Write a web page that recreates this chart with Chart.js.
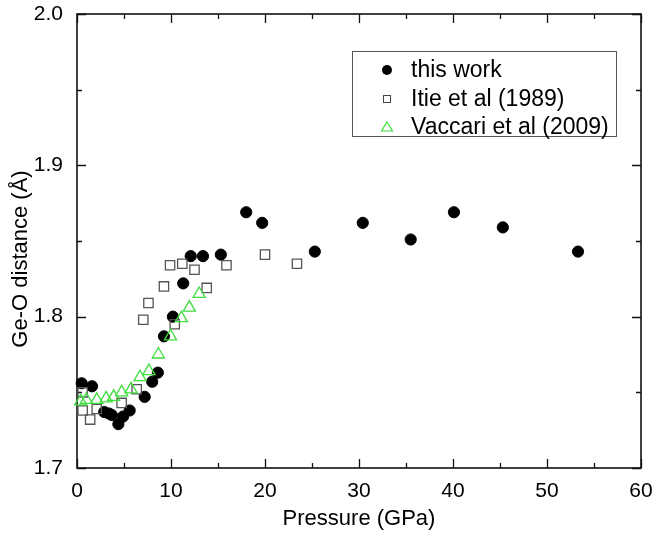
<!DOCTYPE html>
<html><head><meta charset="utf-8">
<script src="https://cdn.jsdelivr.net/npm/chart.js@4/dist/chart.umd.min.js"></script>
<style>html,body{margin:0;padding:0;background:#fff}#wrap{width:654px;height:533px;position:relative}</style>
</head><body><div id="wrap"><canvas id="c" width="654" height="533"></canvas></div>
<script>
// ---- data ----
const thisWorkP = [0.5, 1.6, 2.9, 3.4, 3.7, 4.4, 4.9, 5.6, 7.2, 8.0, 8.6, 9.25, 10.2, 11.3, 12.1, 13.4, 15.3, 18.0, 19.7, 25.3, 30.4, 35.5, 40.1, 45.3, 53.3];
const thisWorkD = [1.756, 1.754, 1.737, 1.736, 1.735, 1.729, 1.734, 1.738, 1.747, 1.757, 1.763, 1.787, 1.800, 1.822, 1.840, 1.840, 1.841, 1.869, 1.862, 1.843, 1.862, 1.851, 1.869, 1.859, 1.843];
const itieP = [0.6, 0.6, 1.4, 2.1, 4.75, 6.35, 7.05, 7.6, 9.25, 9.9, 10.4, 11.2, 12.5, 13.8, 15.9, 20.0, 23.4];
const itieD = [1.750, 1.738, 1.732, 1.739, 1.743, 1.752, 1.798, 1.809, 1.820, 1.834, 1.795, 1.835, 1.831, 1.819, 1.834, 1.841, 1.835];
const vaccariP = [0.4, 1.0, 2.1, 3.1, 3.9, 4.75, 5.75, 6.7, 7.65, 8.65, 9.95, 11.1, 11.95, 13.0];
const vaccariD = [1.744, 1.745, 1.745, 1.746, 1.747, 1.750, 1.752, 1.760, 1.764, 1.775, 1.787, 1.799, 1.806, 1.815];
const seriesLabels = ['this work', 'Itie et al (1989)', 'Vaccari et al (2009)'];
const xTitle = 'Pressure (GPa)';
const yTitle = 'Ge-O distance (Å)';
const xMin = 0, xMax = 60, xMajor = 10, xMinor = 5;
const yMin = 1.7, yMax = 2.0, yMajor = 0.1, yMinor = 0.05;

const pts = (xs, ys) => xs.map((x, i) => ({x, y: ys[i]}));
const GREEN = '#3ede3e';
const FONT = 'Liberation Sans, Arial, sans-serif';

const framePlugin = {
  id: 'frame',
  beforeDatasetsDraw(chart) {
    const {ctx, chartArea: a, scales: {x, y}} = chart;
    ctx.save();
    ctx.strokeStyle = '#111';
    ctx.lineWidth = 1.6;
    ctx.strokeRect(a.left, a.top, a.right - a.left, a.bottom - a.top);
    ctx.lineWidth = 1.3;
    ctx.beginPath();
    for (let v = xMin; v <= xMax + 1e-9; v += xMinor) {
      const px = Math.round(x.getPixelForValue(v)) + 0.5;
      const major = Math.abs(v / xMajor - Math.round(v / xMajor)) < 1e-6;
      const L = major ? 9 : 5;
      ctx.moveTo(px, a.bottom); ctx.lineTo(px, a.bottom - L);
      ctx.moveTo(px, a.top); ctx.lineTo(px, a.top + L);
    }
    for (let i = 0; i <= Math.round((yMax - yMin) / yMinor); i++) {
      const v = yMin + i * yMinor;
      const py = Math.round(y.getPixelForValue(v)) + 0.5;
      const L = (i % 2 === 0) ? 9 : 5;
      ctx.moveTo(a.left, py); ctx.lineTo(a.left + L, py);
      ctx.moveTo(a.right, py); ctx.lineTo(a.right - L, py);
    }
    ctx.stroke();
    ctx.restore();
  },
  afterDraw(chart) {
    const {ctx} = chart;
    ctx.save();
    ctx.strokeStyle = '#555';
    ctx.lineWidth = 1;
    ctx.strokeRect(352.5, 51.5, 264, 85);
    const rows = [70, 99, 127];
    const mx = 387, tx = 411;
    ctx.font = '23px ' + FONT;
    ctx.fillStyle = '#000';
    ctx.textBaseline = 'middle';
    ctx.textAlign = 'left';
    seriesLabels.forEach((t, i) => ctx.fillText(t, tx, rows[i] + 1));
    ctx.fillStyle = '#000';
    ctx.beginPath(); ctx.arc(mx, rows[0], 5, 0, Math.PI * 2); ctx.fill();
    ctx.strokeStyle = '#444'; ctx.lineWidth = 1;
    ctx.strokeRect(mx - 3.5, rows[1] - 3.5, 7, 7);
    ctx.strokeStyle = GREEN; ctx.lineWidth = 1.2;
    ctx.beginPath();
    ctx.moveTo(mx, rows[2] - 5); ctx.lineTo(mx + 5.5, rows[2] + 4); ctx.lineTo(mx - 5.5, rows[2] + 4); ctx.closePath();
    ctx.stroke();
    ctx.restore();
  }
};

new Chart(document.getElementById('c'), {
  type: 'scatter',
  data: {
    datasets: [
      {label: seriesLabels[2], data: pts(vaccariP, vaccariD), pointStyle: 'triangle', pointRadius: 7,
       backgroundColor: 'rgba(0,0,0,0)', borderColor: GREEN, borderWidth: 1.3, order: 0, clip: false},
      {label: seriesLabels[1], data: pts(itieP, itieD), pointStyle: 'rect', pointRadius: 6.6,
       backgroundColor: 'rgba(0,0,0,0)', borderColor: '#555', borderWidth: 1.3, order: 1, clip: false},
      {label: seriesLabels[0], data: pts(thisWorkP, thisWorkD), pointStyle: 'circle', pointRadius: 5.6,
       backgroundColor: '#000', borderColor: '#000', borderWidth: 1, order: 2, clip: false}
    ]
  },
  options: {
    responsive: false,
    devicePixelRatio: 1,
    animation: false,
    layout: {padding: {left: 0, top: 14, right: 13, bottom: 0}},
    plugins: {legend: {display: false}, tooltip: {enabled: false}},
    scales: {
      x: {
        type: 'linear', min: xMin, max: xMax,
        grid: {display: false, drawTicks: false}, border: {display: false},
        ticks: {stepSize: xMajor, padding: 11, color: '#000', font: {family: FONT, size: 21}},
        title: {display: true, text: xTitle, color: '#000', font: {family: FONT, size: 22}, padding: {top: 0, bottom: 1}},
        afterFit(s) { s.height = 65; s.paddingLeft = 0; s.paddingRight = 0; }
      },
      y: {
        type: 'linear', min: yMin, max: yMax,
        grid: {display: false, drawTicks: false}, border: {display: false},
        ticks: {stepSize: yMajor, padding: 14, color: '#000', font: {family: FONT, size: 21},
                callback: v => Number(v).toFixed(1)},
        title: {display: true, text: yTitle, color: '#000', font: {family: FONT, size: 22}, padding: {top: 8, bottom: 0}},
        afterFit(s) {
          s.width = 77; s.paddingTop = 0; s.paddingBottom = 0;
          if (!s._shiftedTitle) {
            const orig = s.drawTitle.bind(s);
            s.drawTitle = function () { const c = this.ctx; c.save(); c.translate(0, 18); orig(); c.restore(); };
            s._shiftedTitle = true;
          }
        }
      }
    }
  },
  plugins: [framePlugin]
});
</script>
</body></html>
